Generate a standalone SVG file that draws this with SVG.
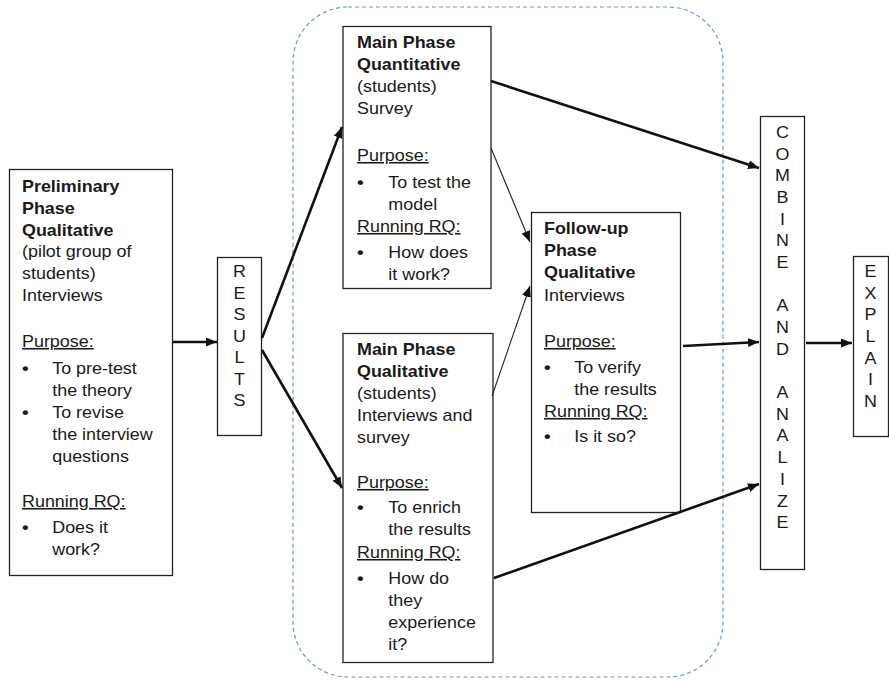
<svg xmlns="http://www.w3.org/2000/svg" width="889" height="681" viewBox="0 0 889 681">
<defs>
<style>
.box{fill:#fff;stroke:#222;stroke-width:1.3}
text{font-family:"Liberation Sans",Arial,sans-serif;font-size:16px;fill:#1a1a1a}
.b{font-weight:bold}
.d{font-weight:bold;font-size:17px}
.u{text-decoration:underline}
.v{text-anchor:middle}
.thick{stroke:#111;stroke-width:2.6;fill:none;marker-end:url(#ah)}
.thin{stroke:#222;stroke-width:1.1;fill:none;marker-end:url(#ah)}
</style>
<marker id="ah" markerUnits="userSpaceOnUse" markerWidth="12" markerHeight="10" refX="11" refY="4.5" orient="auto">
<path d="M0,0 L11,4.5 L0,9 z" fill="#111"/>
</marker>
</defs>
<rect width="889" height="681" fill="#fff"/>
<g id="region">
<rect x="293" y="7" width="430" height="670" rx="55" ry="55" fill="none" stroke="#6a96d2" stroke-width="1.2" stroke-dasharray="4 3"/>
</g>
<g id="preliminary">
<rect class="box" x="9.5" y="169.5" width="163" height="406"/>
<g transform="translate(22,0) scale(1.12,1)">
<text class="b" x="0" y="192">Preliminary</text>
<text class="b" x="0" y="214">Phase</text>
<text class="b" x="0" y="236">Qualitative</text>
<text x="0" y="257">(pilot group of</text>
<text x="0" y="279">students)</text>
<text x="0" y="301">Interviews</text>
<text class="u" x="0" y="347">Purpose:</text>
<text class="d" x="0" y="374">•</text><text x="27" y="374">To pre-test</text>
<text x="27" y="396">the theory</text>
<text class="d" x="0" y="418">•</text><text x="27" y="418">To revise</text>
<text x="27" y="440">the interview</text>
<text x="27" y="462">questions</text>
<text class="u" x="0" y="507">Running RQ:</text>
<text class="d" x="0" y="533">•</text><text x="27" y="533">Does it</text>
<text x="27" y="555">work?</text>
</g>
</g>
<g id="results">
<rect class="box" x="217.5" y="257.5" width="44" height="178"/>
<g transform="translate(239.5,0) scale(1.12,1)">
<text class="v" x="0" y="277">R</text>
<text class="v" x="0" y="299">E</text>
<text class="v" x="0" y="320">S</text>
<text class="v" x="0" y="342">U</text>
<text class="v" x="0" y="363">L</text>
<text class="v" x="0" y="385">T</text>
<text class="v" x="0" y="406">S</text>
</g>
</g>
<g id="main-quant">
<rect class="box" x="343" y="26.5" width="148" height="262"/>
<g transform="translate(357,0) scale(1.12,1)">
<text class="b" x="0" y="48">Main Phase</text>
<text class="b" x="0" y="70">Quantitative</text>
<text x="0" y="92">(students)</text>
<text x="0" y="114">Survey</text>
<text class="u" x="0" y="161">Purpose:</text>
<text class="d" x="0" y="188">•</text><text x="28" y="188">To test the</text>
<text x="28" y="210">model</text>
<text class="u" x="0" y="232">Running RQ:</text>
<text class="d" x="0" y="258">•</text><text x="28" y="258">How does</text>
<text x="28" y="280">it work?</text>
</g>
</g>
<g id="main-qual">
<rect class="box" x="343" y="333.5" width="150" height="329"/>
<g transform="translate(357,0) scale(1.12,1)">
<text class="b" x="0" y="355">Main Phase</text>
<text class="b" x="0" y="377">Qualitative</text>
<text x="0" y="399">(students)</text>
<text x="0" y="421">Interviews and</text>
<text x="0" y="443">survey</text>
<text class="u" x="0" y="488">Purpose:</text>
<text class="d" x="0" y="513">•</text><text x="28" y="513">To enrich</text>
<text x="28" y="535">the results</text>
<text class="u" x="0" y="558">Running RQ:</text>
<text class="d" x="0" y="584">•</text><text x="28" y="584">How do</text>
<text x="28" y="606">they</text>
<text x="28" y="628">experience</text>
<text x="28" y="650">it?</text>
</g>
</g>
<g id="followup">
<rect class="box" x="531.5" y="212.5" width="149" height="300"/>
<g transform="translate(544,0) scale(1.12,1)">
<text class="b" x="0" y="234">Follow-up</text>
<text class="b" x="0" y="256">Phase</text>
<text class="b" x="0" y="278">Qualitative</text>
<text x="0" y="301">Interviews</text>
<text class="u" x="0" y="347">Purpose:</text>
<text class="d" x="0" y="373">•</text><text x="27" y="373">To verify</text>
<text x="27" y="395">the results</text>
<text class="u" x="0" y="417">Running RQ:</text>
<text class="d" x="0" y="442">•</text><text x="27" y="442">Is it so?</text>
</g>
</g>
<g id="combine">
<rect class="box" x="760.5" y="116.5" width="44" height="453"/>
<g transform="translate(782.5,0) scale(1.12,1)">
<text class="v" x="0" y="138">C</text>
<text class="v" x="0" y="160">O</text>
<text class="v" x="0" y="181">M</text>
<text class="v" x="0" y="203">B</text>
<text class="v" x="0" y="225">I</text>
<text class="v" x="0" y="246">N</text>
<text class="v" x="0" y="268">E</text>
<text class="v" x="0" y="311">A</text>
<text class="v" x="0" y="333">N</text>
<text class="v" x="0" y="355">D</text>
<text class="v" x="0" y="398">A</text>
<text class="v" x="0" y="420">N</text>
<text class="v" x="0" y="441">A</text>
<text class="v" x="0" y="463">L</text>
<text class="v" x="0" y="485">I</text>
<text class="v" x="0" y="507">Z</text>
<text class="v" x="0" y="528">E</text>
</g>
</g>
<g id="explain">
<rect class="box" x="853.5" y="256.5" width="35" height="180"/>
<g transform="translate(870.5,0) scale(1.12,1)">
<text class="v" x="0" y="277">E</text>
<text class="v" x="0" y="299">X</text>
<text class="v" x="0" y="320">P</text>
<text class="v" x="0" y="342">L</text>
<text class="v" x="0" y="364">A</text>
<text class="v" x="0" y="385">I</text>
<text class="v" x="0" y="407">N</text>
</g>
</g>
<g id="connectors">
<line class="thick" x1="173" y1="342" x2="217" y2="342"/>
<line class="thick" x1="262" y1="338" x2="342" y2="127"/>
<line class="thick" x1="262" y1="350" x2="342" y2="488"/>
<line class="thin" x1="491" y1="148" x2="530" y2="242"/>
<line class="thin" x1="492" y1="396" x2="530" y2="286"/>
<line class="thick" x1="491" y1="81" x2="759" y2="168"/>
<line class="thick" x1="683" y1="346" x2="759" y2="342"/>
<line class="thick" x1="494" y1="578" x2="759" y2="484"/>
<line class="thick" x1="806" y1="343" x2="852" y2="343"/>
</g>
</svg>
